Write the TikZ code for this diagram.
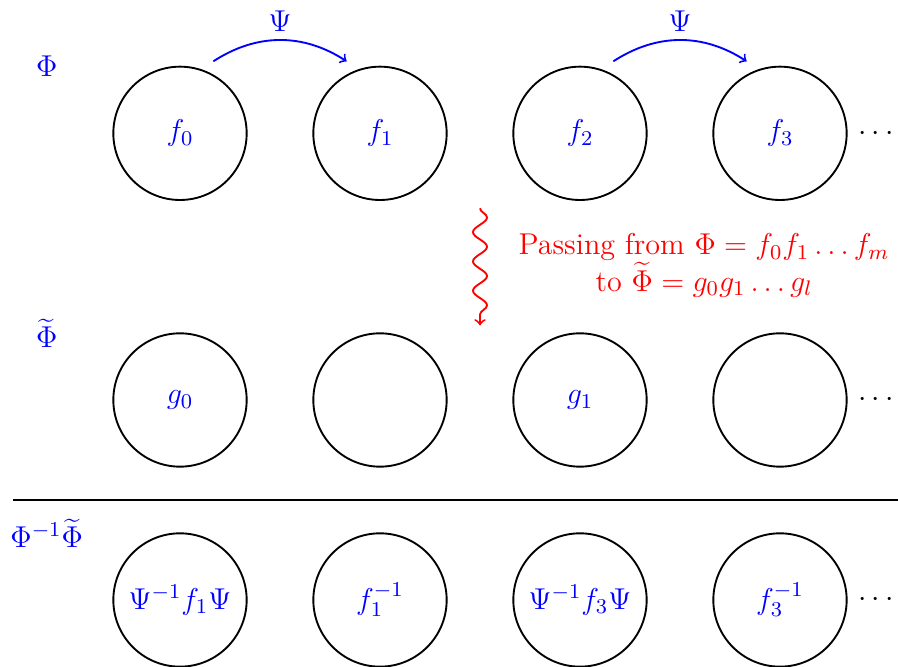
\RequirePackage{fix-cm}
\documentclass[tikz,border=0pt]{standalone}
\usepackage{exscale}
\usetikzlibrary{calc,decorations.pathmorphing}
\begin{document}
\begin{tikzpicture}[
  every node/.style={font=\fontsize{12.85}{15.5}\selectfont},
  cell/.style={circle,draw,thick,minimum size=2cm,inner sep=0pt,text=blue},
  lbl/.style={text=blue},
  psiarrow/.style={->,thick,blue},
  dotsnode/.style={}
]
\useasboundingbox (-2.7,-8) rectangle (10.77,2);
% row 1
\node[cell] (f0) at (0,0) {$f_0$};
\node[cell] (f1) at (3,0) {$f_1$};
\node[cell] (f2) at (6,0) {$f_2$};
\node[cell] (f3) at (9,0) {$f_3$};
\node[dotsnode] (d1) at (10.44,0) {$\cdots$};
\node[lbl] (L1) at (-2,1) {$\Phi$};
% row 2
\node[cell] (g0) at (0,-4) {$g_0$};
\node[cell] (e1) at (3,-4) {};
\node[cell] (g1) at (6,-4) {$g_1$};
\node[cell] (e3) at (9,-4) {};
\node[dotsnode] (d2) at (10.44,-4) {$\cdots$};
\node[lbl] (L2) at (-2,-3) {$\widetilde{\Phi}$};
% row 3
\node[cell] (h0) at (0,-7) {$\Psi^{-1}f_1\Psi$};
\node[cell] (h1) at (3,-7) {$f_1^{-1}$};
\node[cell] (h2) at (6,-7) {$\Psi^{-1}f_3\Psi$};
\node[cell] (h3) at (9,-7) {$f_3^{-1}$};
\node[dotsnode] (d3) at (10.44,-7) {$\cdots$};
\node[lbl] (L3) at (-2,-6) {$\Phi^{-1}\widetilde{\Phi}$};
% separator
\coordinate (sepL) at (-2.5,-5.5);
\coordinate (sepR) at (10.8,-5.5);
\draw[thick] (sepL) -- (sepR);
% Psi arrows
\coordinate (a0) at ($(f0)+(0.5,1.08)$);
\coordinate (a1) at ($(f1)+(-0.5,1.08)$);
\coordinate (b0) at ($(f2)+(0.5,1.08)$);
\coordinate (b1) at ($(f3)+(-0.5,1.08)$);
\draw[psiarrow] (a0) to[bend left=33] node[above,text=blue] {$\Psi$} (a1);
\draw[psiarrow] (b0) to[bend left=33] node[above,text=blue] {$\Psi$} (b1);
% wavy arrow
\coordinate (w0) at (4.5,-1.125);
\coordinate (w1) at (4.5,-2.88);
\draw[->,red,thick,decorate,decoration={snake,amplitude=3pt,segment length=12.5pt,post length=4pt}] (w0) -- (w1);
\node[text=red,align=center] (txt) at (7.86,-1.98) {Passing from $\Phi=f_0f_1\ldots f_m$\\ to $\widetilde{\Phi}=g_0g_1\ldots g_l$};
\end{tikzpicture}
\end{document}
